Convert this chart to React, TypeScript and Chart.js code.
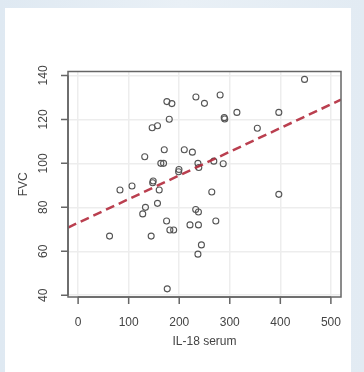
import React, { useEffect, useRef } from "react";
import { Chart, registerables } from "chart.js";

Chart.register(...registerables);

const xTicks = [0, 100, 200, 300, 400, 500];
const yTicks = [40, 60, 80, 100, 120, 140];
const xRange = [-20, 520];
const yRange = [39.2, 141.8];
const xTitle = "IL-18 serum";
const yTitle = "FVC";

const il18 = [
  447.9, 280.9, 233, 249.9, 175.6, 185.5, 180.3, 289, 290, 314.1, 397, 354.5,
  146.5, 157, 170.4, 210, 226, 131.8, 163.6, 169, 237, 238.7, 268.4, 287,
  198.8, 199.5, 147.5, 148.5, 82.8, 106.6, 160.4, 264.4, 397, 157, 133.2,
  127.8, 232.6, 238, 175, 272.4, 221.3, 238, 181.5, 189, 62.2, 144.5, 243.9,
  237, 176.3,
];
const fvc = [
  138.2, 131.1, 130.2, 127.3, 128.1, 127.2, 120.1, 120.8, 120.2, 123.2, 123.2,
  116, 116.2, 117.1, 106.2, 106.2, 105.1, 103, 100, 100, 100, 98.1, 101, 99.8,
  96.2, 97.2, 91.2, 92, 87.9, 89.7, 87.9, 87, 85.9, 81.8, 80, 77, 79, 77.9,
  73.8, 73.8, 72, 72, 69.7, 69.7, 66.9, 66.9, 62.9, 58.7, 42.9,
];
const fitX = [-20, 520];
const fitY = [70.8, 129];

const FONT = "'Liberation Sans', Arial, sans-serif";

const rAxesPlugin = {
  id: "rAxes",
  afterDraw(chart: any) {
    const { ctx, chartArea: a, scales } = chart;
    const xs = scales.x;
    const ys = scales.y;
    ctx.save();
    // box
    ctx.strokeStyle = "#666";
    ctx.lineWidth = 1.5;
    ctx.strokeRect(a.left, a.top, a.right - a.left, a.bottom - a.top);
    // x ticks
    ctx.beginPath();
    const x0 = xs.getPixelForValue(xTicks[0]);
    const x1 = xs.getPixelForValue(xTicks[xTicks.length - 1]);
    ctx.moveTo(x0, a.bottom);
    ctx.lineTo(x1, a.bottom);
    xTicks.forEach((v) => {
      const px = xs.getPixelForValue(v);
      ctx.moveTo(px, a.bottom);
      ctx.lineTo(px, a.bottom + 7);
    });
    const y0 = ys.getPixelForValue(yTicks[0]);
    const y1 = ys.getPixelForValue(yTicks[yTicks.length - 1]);
    ctx.moveTo(a.left, y0);
    ctx.lineTo(a.left, y1);
    yTicks.forEach((v) => {
      const py = ys.getPixelForValue(v);
      ctx.moveTo(a.left, py);
      ctx.lineTo(a.left - 7, py);
    });
    ctx.stroke();
    // labels
    ctx.fillStyle = "#444";
    ctx.font = `12px ${FONT}`;
    ctx.textAlign = "center";
    ctx.textBaseline = "middle";
    xTicks.forEach((v) => {
      ctx.fillText(String(v), xs.getPixelForValue(v), a.bottom + 26);
    });
    yTicks.forEach((v) => {
      ctx.save();
      ctx.translate(a.left - 24, ys.getPixelForValue(v));
      ctx.rotate(-Math.PI / 2);
      ctx.fillText(String(v), 0, 0);
      ctx.restore();
    });
    ctx.fillText(xTitle, (a.left + a.right) / 2, a.bottom + 45);
    ctx.save();
    ctx.translate(a.left - 44, (a.top + a.bottom) / 2);
    ctx.rotate(-Math.PI / 2);
    ctx.fillText(yTitle, 0, 0);
    ctx.restore();
    ctx.restore();
  },
};

export default function App() {
  const ref = useRef<HTMLCanvasElement | null>(null);
  useEffect(() => {
    if (!ref.current) return;
    const chart = new Chart(ref.current, {
      type: "scatter",
      data: {
        datasets: [
          {
            type: "line",
            data: fitX.map((x, i) => ({ x, y: fitY[i] })),
            borderColor: "rgba(178,42,60,0.9)",
            borderWidth: 2.5,
            borderDash: [9, 5],
            pointRadius: 0,
            fill: false,
          } as any,
          {
            data: il18.map((x, i) => ({ x, y: fvc[i] })),
            pointStyle: "circle",
            pointRadius: 3,
            pointBorderWidth: 1.1,
            pointBorderColor: "#555",
            pointBackgroundColor: "rgba(0,0,0,0)",
            showLine: false,
          } as any,
        ],
      },
      options: {
        animation: false,
        responsive: false,
        maintainAspectRatio: false,
        layout: { padding: { left: 0, top: 71.5, right: 23, bottom: 0 } },
        plugins: { legend: { display: false }, tooltip: { enabled: false } },
        scales: {
          x: {
            type: "linear",
            min: xRange[0],
            max: xRange[1],
            afterBuildTicks: (s: any) => {
              s.ticks = xTicks.map((value) => ({ value }));
            },
            afterFit: (s: any) => {
              s.height = 75;
            },
            ticks: { display: false },
            grid: { color: "#ededed", lineWidth: 1.5, drawTicks: false },
            border: { display: false },
          },
          y: {
            type: "linear",
            min: yRange[0],
            max: yRange[1],
            afterBuildTicks: (s: any) => {
              s.ticks = yTicks.map((value) => ({ value }));
            },
            afterFit: (s: any) => {
              s.width = 68;
            },
            ticks: { display: false },
            grid: { color: "#ededed", lineWidth: 1.5, drawTicks: false },
            border: { display: false },
          },
        },
      },
      plugins: [rAxesPlugin],
    });
    return () => chart.destroy();
  }, []);

  return (
    <div
      style={{
        position: "absolute",
        left: 0,
        top: 0,
        width: 364,
        height: 372,
        background: "linear-gradient(90deg, #dfe9f2, #e9f0f6 50%, #e2ebf3)",
        overflow: "hidden",
      }}
    >
      <div
        style={{
          position: "absolute",
          left: 5,
          top: 8,
          width: 346,
          height: 364,
          background: "#fff",
        }}
      />
      <canvas
        ref={ref}
        width={364}
        height={372}
        style={{ position: "absolute", left: 0, top: 0, width: 364, height: 372 }}
      />
    </div>
  );
}
